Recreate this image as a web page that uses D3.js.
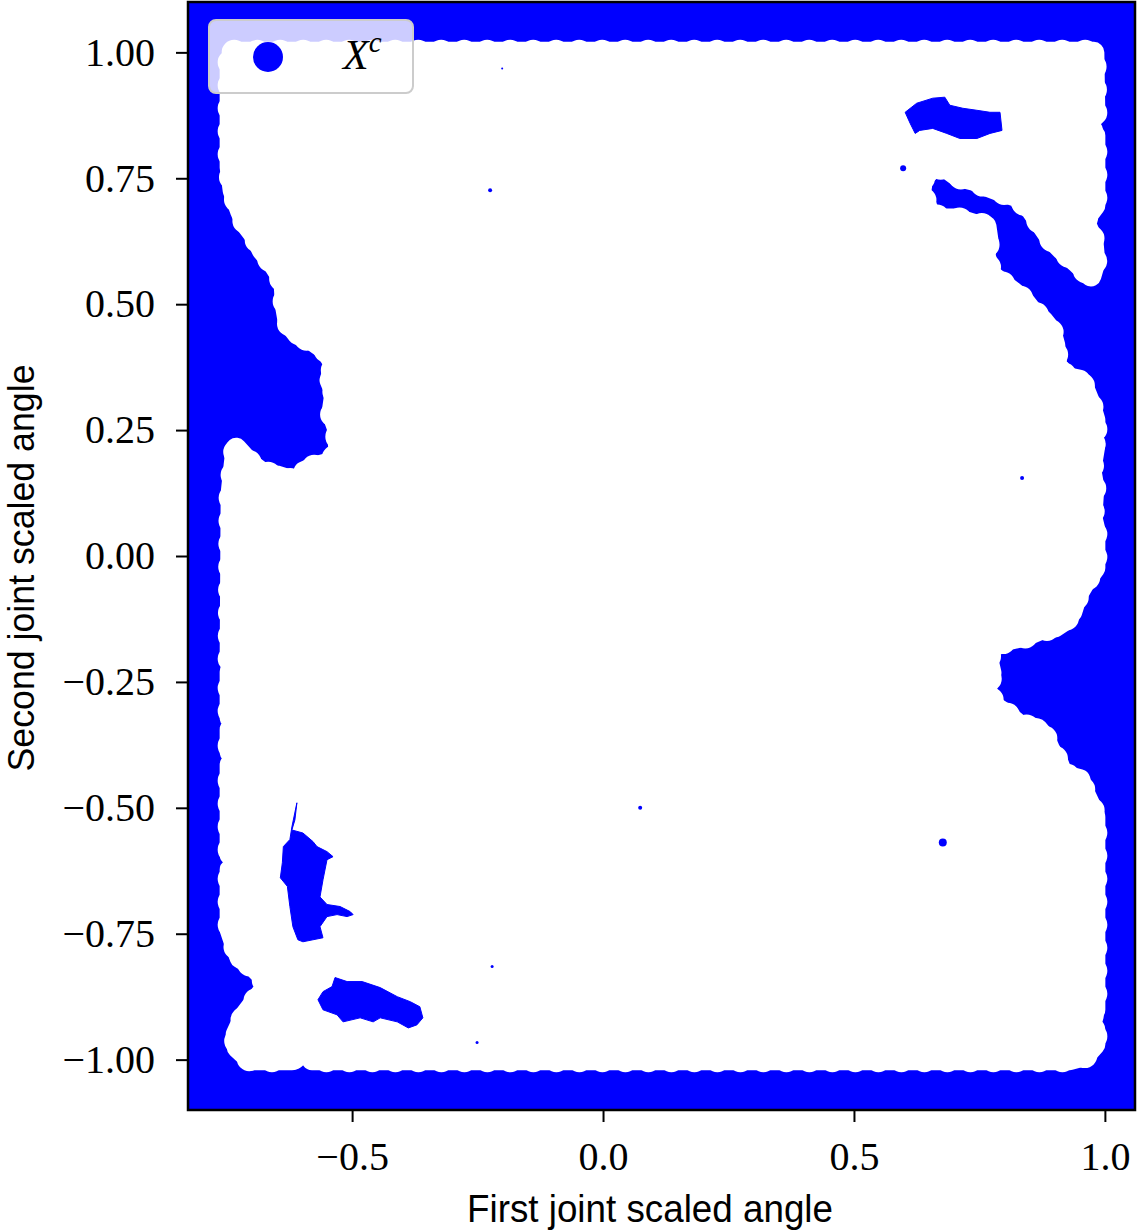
<!DOCTYPE html>
<html>
<head>
<meta charset="utf-8">
<script src="https://cdn.jsdelivr.net/npm/d3@7"></script>
<style>
  body { margin: 0; background: #fff; }
  svg { display: block; }
</style>
</head>
<body>
<svg id="chart" width="1137" height="1230"></svg>
<script>
// axis extents and ticks
const xDomain = [-0.827, 1.06];
const yDomain = [-1.1, 1.1];
const xTicks = [-0.5, 0.0, 0.5, 1.0];
const yTicks = [-1.0, -0.75, -0.5, -0.25, 0.0, 0.25, 0.5, 0.75, 1.0];

// boundary of the covered (white) region, centres of the outermost samples
const safeOutline = [
  [-0.735, 1.00], [0.978, 1.00],
  [0.980, 0.875], [0.962, 0.855], [0.980, 0.835], [0.980, 0.696], [0.958, 0.667],
  [0.976, 0.627], [0.980, 0.583], [0.972, 0.556],
  [0.946, 0.581], [0.914, 0.609], [0.892, 0.631], [0.873, 0.659], [0.853, 0.688],
  [0.823, 0.714], [0.793, 0.724], [0.767, 0.734], [0.739, 0.746], [0.707, 0.754],
  [0.685, 0.770], [0.661, 0.774], [0.637, 0.752], [0.633, 0.722], [0.651, 0.679],
  [0.675, 0.669], [0.705, 0.669], [0.737, 0.659], [0.763, 0.655], [0.767, 0.627],
  [0.761, 0.597], [0.773, 0.558], [0.799, 0.538], [0.815, 0.526], [0.839, 0.506],
  [0.853, 0.488], [0.876, 0.468], [0.892, 0.448], [0.900, 0.419], [0.904, 0.379],
  [0.922, 0.355], [0.950, 0.349], [0.960, 0.329], [0.970, 0.304], [0.980, 0.270],
  [0.980, 0.246], [0.962, 0.234], [0.980, 0.220], [0.972, 0.171], [0.978, 0.137],
  [0.974, 0.077], [0.980, 0.052], [0.980, -0.024],
  [0.962, -0.048], [0.944, -0.079], [0.934, -0.111], [0.918, -0.129], [0.900, -0.141],
  [0.869, -0.147], [0.841, -0.159], [0.803, -0.167], [0.771, -0.183], [0.767, -0.206],
  [0.773, -0.232], [0.763, -0.266], [0.781, -0.300], [0.807, -0.317], [0.831, -0.337],
  [0.865, -0.343], [0.880, -0.361], [0.890, -0.385], [0.906, -0.409], [0.916, -0.435],
  [0.950, -0.444], [0.956, -0.464], [0.970, -0.494], [0.980, -0.518],
  [0.980, -0.901], [0.968, -0.921], [0.980, -0.940], [0.980, -0.970], [0.960, -0.992],
  [0.930, -1.000],
  [-0.580, -1.000], [-0.600, -0.972], [-0.620, -1.000], [-0.703, -1.000],
  [-0.729, -0.976], [-0.731, -0.950], [-0.713, -0.911], [-0.693, -0.885], [-0.675, -0.861],
  [-0.675, -0.837], [-0.699, -0.813], [-0.723, -0.798], [-0.733, -0.772], [-0.743, -0.742],
  [-0.743, -0.623], [-0.715, -0.607], [-0.743, -0.593], [-0.743, -0.415], [-0.723, -0.405],
  [-0.743, -0.389], [-0.743, -0.345], [-0.723, -0.335], [-0.743, -0.321], [-0.743, -0.230],
  [-0.717, -0.220], [-0.743, -0.206], [-0.741, 0.125], [-0.735, 0.181], [-0.731, 0.214],
  [-0.703, 0.183], [-0.679, 0.165], [-0.651, 0.159], [-0.624, 0.151], [-0.610, 0.127],
  [-0.596, 0.167], [-0.574, 0.177], [-0.544, 0.185], [-0.526, 0.206], [-0.530, 0.256],
  [-0.540, 0.284], [-0.534, 0.325], [-0.544, 0.349], [-0.534, 0.379], [-0.552, 0.409],
  [-0.578, 0.427], [-0.608, 0.440], [-0.627, 0.464], [-0.633, 0.498], [-0.635, 0.534],
  [-0.643, 0.558], [-0.659, 0.583], [-0.679, 0.607], [-0.693, 0.635], [-0.711, 0.659],
  [-0.723, 0.687], [-0.737, 0.726], [-0.743, 0.772], [-0.743, 0.984]
];

// uncovered islands (X^c) inside the white region
const holeTopRight = [
  [0.602, 0.881], [0.625, 0.899], [0.657, 0.909], [0.681, 0.911], [0.691, 0.895],
  [0.717, 0.889], [0.745, 0.885], [0.771, 0.881], [0.791, 0.881], [0.795, 0.845],
  [0.771, 0.839], [0.745, 0.829], [0.711, 0.829], [0.685, 0.839], [0.657, 0.849],
  [0.631, 0.845], [0.622, 0.839], [0.612, 0.859]
];
const holeLeft = [
  [-0.610, -0.490], [-0.614, -0.524], [-0.620, -0.544], [-0.598, -0.550], [-0.578, -0.567],
  [-0.570, -0.577], [-0.550, -0.587], [-0.538, -0.597], [-0.550, -0.603], [-0.558, -0.643],
  [-0.564, -0.677], [-0.550, -0.692], [-0.524, -0.696], [-0.504, -0.706], [-0.498, -0.712],
  [-0.510, -0.716], [-0.530, -0.712], [-0.550, -0.716], [-0.564, -0.736], [-0.558, -0.758],
  [-0.578, -0.762], [-0.598, -0.766], [-0.608, -0.762], [-0.618, -0.736], [-0.624, -0.696],
  [-0.629, -0.656], [-0.643, -0.639], [-0.639, -0.609], [-0.637, -0.577], [-0.624, -0.563],
  [-0.620, -0.538]
];
const holeBottom = [
  [-0.534, -0.837], [-0.510, -0.845], [-0.480, -0.845], [-0.444, -0.857], [-0.410, -0.875],
  [-0.384, -0.885], [-0.365, -0.895], [-0.359, -0.917], [-0.371, -0.931], [-0.388, -0.937],
  [-0.410, -0.925], [-0.444, -0.917], [-0.458, -0.925], [-0.484, -0.917], [-0.518, -0.925],
  [-0.530, -0.911], [-0.558, -0.901], [-0.568, -0.881], [-0.558, -0.865], [-0.540, -0.855]
];
// isolated uncovered samples: x, y, radius in px
const specks = [
  [0.598, 0.770, 3], [-0.225, 0.726, 2], [0.835, 0.155, 2], [0.074, -0.500, 2],
  [0.677, -0.569, 4], [-0.221, -0.815, 1.5], [-0.251, -0.966, 1.5], [-0.201, 0.968, 1]
];

const blue = '#0000ff';
const svg = d3.select('#chart');

const x = d3.scaleLinear().domain(xDomain).range([188, 1135]);
const y = d3.scaleLinear().domain(yDomain).range([1110, 2]);

svg.append('defs').append('clipPath').attr('id', 'plotclip')
  .append('rect')
  .attr('x', x(xDomain[0])).attr('y', y(yDomain[1]))
  .attr('width', x(xDomain[1]) - x(xDomain[0]))
  .attr('height', y(yDomain[0]) - y(yDomain[1]));

const plot = svg.append('g').attr('clip-path', 'url(#plotclip)');

// X^c fills the whole box, the covered set is painted over it
plot.append('rect')
  .attr('x', x(xDomain[0])).attr('y', y(yDomain[1]))
  .attr('width', x(xDomain[1]) - x(xDomain[0]))
  .attr('height', y(yDomain[0]) - y(yDomain[1]))
  .attr('fill', blue);

const closed = d3.line().x(d => x(d[0])).y(d => y(d[1])).curve(d3.curveLinearClosed);

plot.append('path')
  .attr('d', closed(safeOutline))
  .attr('fill', '#fff')
  .attr('stroke', '#fff')
  .attr('stroke-width', 21)
  .attr('stroke-linejoin', 'round');

// scalloped rim from the big markers
plot.append('path')
  .attr('d', closed(safeOutline))
  .attr('fill', 'none')
  .attr('stroke', '#fff')
  .attr('stroke-width', 25)
  .attr('stroke-linecap', 'round')
  .attr('stroke-dasharray', '0 23');

plot.selectAll('.hole')
  .data([holeTopRight, holeLeft, holeBottom])
  .enter().append('path')
  .attr('class', 'hole')
  .attr('d', d => closed(d))
  .attr('fill', blue)
  .attr('stroke', blue)
  .attr('stroke-width', 1)
  .attr('stroke-linejoin', 'round');

plot.selectAll('.speck')
  .data(specks)
  .enter().append('circle')
  .attr('class', 'speck')
  .attr('cx', d => x(d[0]))
  .attr('cy', d => y(d[1]))
  .attr('r', d => d[2])
  .attr('fill', blue);

// legend
const legend = svg.append('g');
legend.append('rect')
  .attr('x', 209).attr('y', 20).attr('width', 204).attr('height', 73)
  .attr('rx', 7).attr('ry', 7)
  .attr('fill', '#fff').attr('fill-opacity', 0.8)
  .attr('stroke', '#cccccc').attr('stroke-width', 2);
legend.append('circle')
  .attr('cx', 268).attr('cy', 57).attr('r', 15)
  .attr('fill', blue);
const lt = legend.append('text')
  .attr('x', 343).attr('y', 69)
  .style('font-family', '"Liberation Serif", "DejaVu Serif", serif')
  .style('font-size', '42px')
  .style('font-style', 'italic');
lt.append('tspan').text('X');
lt.append('tspan').attr('dy', -17).style('font-size', '29px').text('c');

// frame
svg.append('rect')
  .attr('x', x(xDomain[0])).attr('y', y(yDomain[1]))
  .attr('width', x(xDomain[1]) - x(xDomain[0]))
  .attr('height', y(yDomain[0]) - y(yDomain[1]))
  .attr('fill', 'none')
  .attr('stroke', '#000')
  .attr('stroke-width', 2.5);

const tickFont = '"Liberation Serif", "DejaVu Serif", serif';

const xAxis = d3.axisBottom(x)
  .tickValues(xTicks)
  .tickFormat(d3.format('.1f'))
  .tickSize(12)
  .tickPadding(20);
const gx = svg.append('g')
  .attr('transform', 'translate(0,' + y(yDomain[0]) + ')')
  .call(xAxis);
gx.select('.domain').remove();
gx.selectAll('.tick line').attr('stroke-width', 2);
gx.selectAll('.tick text')
  .attr('y', 60).attr('dy', 0)
  .style('font-family', tickFont)
  .style('font-size', '40px')
  .attr('fill', '#000');

const yAxis = d3.axisLeft(y)
  .tickValues(yTicks)
  .tickFormat(d3.format('.2f'))
  .tickSize(12)
  .tickPadding(21);
const gy = svg.append('g')
  .attr('transform', 'translate(' + x(xDomain[0]) + ',0)')
  .call(yAxis);
gy.select('.domain').remove();
gy.selectAll('.tick line').attr('stroke-width', 2);
gy.selectAll('.tick text')
  .style('font-family', tickFont)
  .style('font-size', '40px')
  .attr('fill', '#000');

// axis titles
svg.append('text')
  .attr('x', 650).attr('y', 1222)
  .attr('text-anchor', 'middle')
  .attr('textLength', 366).attr('lengthAdjust', 'spacingAndGlyphs')
  .style('font-family', '"Liberation Sans", Arial, sans-serif')
  .style('font-size', '38px')
  .text('First joint scaled angle');

svg.append('text')
  .attr('transform', 'translate(34,568) rotate(-90)')
  .attr('text-anchor', 'middle')
  .attr('textLength', 407).attr('lengthAdjust', 'spacingAndGlyphs')
  .style('font-family', '"Liberation Sans", Arial, sans-serif')
  .style('font-size', '36px')
  .text('Second joint scaled angle');
</script>
</body>
</html>
